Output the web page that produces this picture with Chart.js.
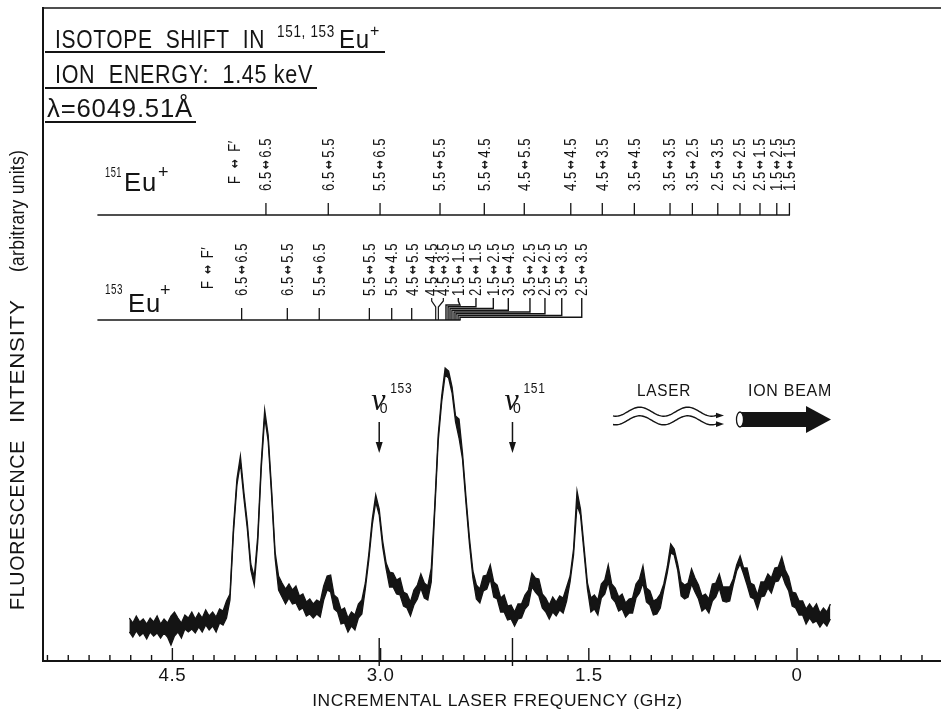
<!DOCTYPE html>
<html><head><meta charset="utf-8">
<script src="https://cdn.jsdelivr.net/npm/chart.js@4.4.1/dist/chart.umd.min.js"></script>
<style>html,body{margin:0;padding:0;background:#fff;overflow:hidden}canvas{display:block}</style>
</head><body>
<div style="width:941px;height:713px;position:relative"><canvas id="c" width="941" height="713"></canvas></div>
<script>
// ---------------- data ----------------
const freqStart = 4.81;      // GHz of first scan sample
const freqStep = 0.025;      // GHz between samples (scan runs toward lower frequency)
// upper and lower edges of the noisy fluorescence trace (arbitrary units)
const traceUpper = [
 4.3,3.8,4.5,3.9,4.2,3.7,4.3,3.9,4.5,3.7, 4.2,3.8,4.5,4.9,4.3,3.8,4.6,4.3,4.9,4.2,
 4.8,4.3,5.1,4.5,4.9,4.4,5.2,5.0,6.0,6.7, 13.4,18.2,20.5,16.9,13.8,9.7,8.4,12.5,19.8,25.1,
 22.6,17.1,10.9,8.5,7.8,7.2,7.7,7.1,7.5,6.5, 6.7,5.9,6.2,5.7,6.1,5.9,7.5,8.5,8.6,6.6,
 6.3,5.1,5.3,4.3,4.9,4.6,5.7,6.1,7.8,10.7, 14.2,16.6,15.2,12.0,9.8,8.9,8.8,8.1,8.3,6.9,
 6.7,5.9,7.1,7.6,8.7,7.8,7.5,9.3,15.5,22.6, 26.5,29.3,29.0,27.4,24.5,24.2,20.8,16.4,12.3,9.0,
 7.6,7.2,8.5,8.6,9.6,7.9,7.6,6.3,6.6,5.5, 5.6,4.9,5.7,5.7,6.6,7.1,8.8,8.3,8.2,6.7,
 6.3,5.6,6.4,5.9,6.5,6.3,7.4,8.5,11.2,17.0, 15.2,11.5,7.8,6.3,6.6,6.1,7.7,8.1,9.6,7.7,
 7.3,6.4,6.7,5.8,6.2,6.3,7.7,8.2,9.5,7.3, 7.0,6.0,6.2,6.7,7.7,9.4,11.7,11.2,9.7,7.9,
 7.6,7.8,9.2,8.3,7.6,6.5,6.7,6.2,7.7,7.8, 8.7,7.4,7.4,7.4,8.2,9.6,10.5,9.3,9.3,7.8,
 7.6,6.6,7.9,7.9,8.7,8.3,9.3,9.4,10.4,9.1, 8.4,6.9,6.8,6.0,6.0,5.2,5.7,5.2,5.7,4.8,
 5.3,4.9,5.7
];
const traceLower = [
 2.9,2.4,3.0,2.5,2.8,2.2,2.9,2.5,2.8,2.3, 2.8,2.4,1.6,2.5,2.9,2.3,3.2,2.9,3.2,2.8,
 3.4,2.9,3.6,3.1,3.5,2.9,3.8,3.6,4.3,6.1, 12.8,17.6,19.8,16.3,13.2,9.1,7.6,11.9,19.2,24.4,
 22.0,16.5,10.3,7.1,6.4,5.7,6.3,5.7,5.8,5.1, 5.3,4.5,4.7,4.3,4.7,4.4,6.1,7.1,6.9,5.2,
 4.9,3.7,3.8,2.9,3.5,3.1,4.3,4.7,7.2,10.1, 13.6,15.9,14.6,11.4,9.2,7.4,7.4,6.7,6.6,5.5,
 5.3,4.5,5.6,6.2,7.3,6.3,6.1,7.9,14.9,22.0, 25.9,28.6,28.3,26.8,23.9,22.3,20.2,15.8,11.7,8.3,
 6.2,5.8,7.0,7.2,8.2,6.4,6.2,4.9,4.9,4.1, 4.2,3.5,4.2,4.3,5.2,5.6,7.4,6.9,6.5,5.3,
 4.9,4.2,4.9,4.5,5.1,4.8,6.0,7.9,10.6,15.6, 14.6,10.9,7.2,4.9,5.2,4.6,6.3,6.7,7.9,6.3,
 5.9,5.0,5.2,4.4,4.8,4.8,6.3,6.8,7.8,5.9, 5.6,4.6,4.7,5.3,7.1,8.8,10.8,10.6,9.1,6.5,
 6.2,6.4,7.7,6.9,6.2,5.0,5.3,4.8,6.0,6.4, 7.3,6.0,5.9,6.0,7.6,9.0,9.7,8.7,7.6,6.4,
 6.2,5.2,6.4,6.5,7.3,6.8,7.9,8.0,8.7,7.7, 7.0,5.5,5.3,4.6,4.6,3.7,4.3,3.8,4.0,3.4,
 3.9,3.5,4.2
];
const xRange = [-1.037, 5.432];          // GHz shown (axis reversed)
const yRange = [0, 65.3];                // arbitrary units
const xMajorTicks = [4.5, 3.0, 1.5, 0];
const xMinorStep = 0.15;
const nu0Isotopes = ['153', '151'];
const nu0Freqs = [3.01, 2.05];

const eu151Labels = ['6.5↔6.5','6.5↔5.5','5.5↔6.5','5.5↔5.5','5.5↔4.5','4.5↔5.5','4.5↔4.5','4.5↔3.5',
                     '3.5↔4.5','3.5↔3.5','3.5↔2.5','2.5↔3.5','2.5↔2.5','2.5↔1.5','1.5↔2.5','1.5↔1.5'];
const eu151Freqs  = [3.826,3.377,3.004,2.572,2.253,1.965,1.630,1.403,1.172,0.915,0.754,0.571,0.411,0.267,0.146,0.055];
const eu153Labels = ['6.5↔6.5','6.5↔5.5','5.5↔6.5','5.5↔5.5','5.5↔4.5','4.5↔5.5','4.5↔4.5','4.5↔3.5',
                     '1.5↔1.5','2.5↔1.5','1.5↔2.5','3.5↔4.5','3.5↔2.5','2.5↔2.5','3.5↔3.5','2.5↔3.5'];
const eu153Freqs  = [4.001,3.672,3.442,3.081,2.920,2.776,2.603,2.584,2.529,2.514,2.500,2.486,2.471,2.457,2.442,2.428];

// ---------------- layout (not data) ----------------
const eu153LabelAt = [4.001,3.672,3.442,3.081,2.920,2.770,2.632,2.548,2.440,2.313,2.188,2.080,1.924,1.816,1.695,1.551];
const diagramStart = 5.04;
const headerAt151 = 4.05, headerAt153 = 4.245;

const INK = '#141414';
function hasFont(name) {
  const c = document.createElement('canvas').getContext('2d');
  const s = 'ISOTOPE SHIFT 6049.51 keV';
  c.font = '40px monospace'; const a = c.measureText(s).width;
  c.font = '40px "' + name + '", monospace'; const b = c.measureText(s).width;
  return Math.abs(a - b) > 0.5;
}
const NARROW = hasFont('Liberation Sans Narrow');
const FAMILY = NARROW ? '"Liberation Sans Narrow", "Liberation Sans", "DejaVu Sans", sans-serif'
                      : '"Liberation Sans", "DejaVu Sans", Arial, sans-serif';
const REG = '"Liberation Sans", "DejaVu Sans", Arial, sans-serif';
const SX = NARROW ? 1 : 0.82;
const K = NARROW ? 1 : 0.85;

// text in the regular face, squeezed horizontally to a measured width
function drawText(ctx, s, x, y, o) {
  o = o || {};
  const size = o.size || 16;
  ctx.save();
  ctx.translate(x, y);
  if (o.rotate) ctx.rotate(o.rotate);
  ctx.font = (o.italic ? 'italic ' : '') + (o.weight || '400') + ' ' + size + 'px ' + (o.family || REG);
  ctx.textAlign = o.align || 'left';
  ctx.textBaseline = o.baseline || 'alphabetic';
  ctx.fillStyle = o.color || INK;
  ctx.letterSpacing = (o.spacing == null ? 0.8 : o.spacing) + 'px';
  let sx = 1;
  if (o.width) sx = o.width / ctx.measureText(s).width;
  ctx.scale(sx, 1);
  ctx.fillText(s, 0, 0);
  ctx.restore();
}
// rotated transition label "a↔b", reading bottom to top, starting at yBottom
function drawTransition(ctx, s, x, yBottom, gap) {
  gap = gap == null ? 2.6 : gap;
  const [a, b] = s.split('↔');
  ctx.save();
  ctx.translate(x, yBottom);
  ctx.rotate(-Math.PI / 2);
  ctx.fillStyle = INK;
  ctx.textBaseline = 'middle';
  ctx.textAlign = 'left';
  ctx.scale(SX, 1);
  ctx.letterSpacing = '0.7px';
  ctx.font = '400 16px ' + FAMILY;
  const wa = ctx.measureText(a).width;
  ctx.fillText(a, 0, 0.5);
  ctx.letterSpacing = '0px';
  ctx.font = '700 13px "DejaVu Sans", sans-serif';
  const wr = ctx.measureText('↔').width;
  ctx.fillText('↔', wa + gap, 0.5);
  ctx.letterSpacing = '0.7px';
  ctx.font = '400 16px ' + FAMILY;
  ctx.fillText(b, wa + wr + 2 * gap, 0.5);
  ctx.restore();
}
function seg(ctx, x1, y1, x2, y2, w) {
  ctx.beginPath(); ctx.lineWidth = w || 1.3; ctx.moveTo(x1, y1); ctx.lineTo(x2, y2); ctx.stroke();
}
function poly(ctx, pts, w) {
  ctx.beginPath(); ctx.lineWidth = w || 1.2;
  pts.forEach((p, i) => i ? ctx.lineTo(p[0], p[1]) : ctx.moveTo(p[0], p[1]));
  ctx.stroke();
}

const bgPlugin = {
  id: 'bg',
  beforeDraw(chart) {
    const c = chart.ctx;
    c.save(); c.fillStyle = '#fff'; c.fillRect(0, 0, chart.width, chart.height); c.restore();
    c.letterSpacing = NARROW ? '1px' : '0.6px';
  }
};

const annotPlugin = {
  id: 'annot',
  afterDraw(chart) {
    const ctx = chart.ctx, xs = chart.scales.x, A = chart.chartArea;
    const X = f => xs.getPixelForValue(f);
    ctx.save();
    ctx.strokeStyle = INK; ctx.fillStyle = INK; ctx.lineCap = 'butt';

    // frame top line
    seg(ctx, A.left - 1, A.top, A.right, A.top, 1.6);

    // inward ticks on frequency axis
    const k0 = Math.ceil(xRange[0] / xMinorStep - 1e-9), k1 = Math.floor(xRange[1] / xMinorStep + 1e-9);
    for (let k = k0; k <= k1; k++) {
      const f = k * xMinorStep;
      const major = xMajorTicks.some(m => Math.abs(m - f) < 1e-6);
      const x = X(f);
      seg(ctx, x, A.bottom, x, A.bottom - (major ? 13 : 6), 1.4);
    }
    // nu0 marker lines across the axis
    nu0Freqs.forEach(f => { const x = X(f); seg(ctx, x, A.bottom - 23, x, A.bottom + 5, 1.4); });

    // ---- y axis title ----
    const rot = -Math.PI / 2;
    drawText(ctx, 'FLUORESCENCE', 18, 610, {size: 21, width: 170, rotate: rot, baseline: 'middle'});
    drawText(ctx, 'INTENSITY', 18, 423, {size: 21, width: 124, rotate: rot, baseline: 'middle'});
    drawText(ctx, '(arbitrary units)', 18, 272, {size: 21, width: 122, rotate: rot, baseline: 'middle', spacing: 0.3});

    // ---- title block ----
    drawText(ctx, 'ISOTOPE  SHIFT  IN', 55, 48, {size: 25, width: 210});
    drawText(ctx, '151, 153', 277, 37, {size: 16, width: 58});
    drawText(ctx, 'Eu', 339, 48, {size: 25, width: 31});
    drawText(ctx, '+', 370, 36, {size: 16});
    seg(ctx, 45, 52, 385, 52, 2);
    drawText(ctx, 'ION  ENERGY:  1.45 keV', 55, 83, {size: 25, width: 258});
    seg(ctx, 45, 88, 317, 88, 2);
    drawText(ctx, 'λ=6049.51Å', 47, 117, {size: 25, width: 146});
    seg(ctx, 45, 122, 196, 122, 2);

    // ---- 151Eu+ level diagram ----
    const y151 = 215;
    drawText(ctx, '151', 105, 177, {size: 15, width: 17});
    drawText(ctx, 'Eu', 124, 191, {size: 25, width: 33});
    drawText(ctx, '+', 158, 178, {size: 18});
    seg(ctx, X(diagramStart), y151, X(eu151Freqs[eu151Freqs.length - 1]) + 0.6, y151, 1.4);
    eu151Freqs.forEach((f, i) => {
      const x = X(f);
      seg(ctx, x, y151, x, y151 - 12, 1.3);
      drawTransition(ctx, eu151Labels[i], x + 0.5, 191);
    });
    drawTransition(ctx, 'F↔F′', X(headerAt151), 184, 9);

    // ---- 153Eu+ level diagram ----
    const y153 = 320;
    const bx = X(eu153Freqs[eu153Freqs.length - 1]);
    drawText(ctx, '153', 105, 294, {size: 15, width: 18});
    drawText(ctx, 'Eu', 128, 312, {size: 25, width: 33});
    drawText(ctx, '+', 160, 296, {size: 18});
    seg(ctx, X(diagramStart), y153, bx + 0.6, y153, 1.4);
    drawTransition(ctx, 'F↔F′', X(headerAt153), 289, 8);
    eu153Freqs.forEach((f, i) => {
      const xt = X(f), xl = X(eu153LabelAt[i]);
      drawTransition(ctx, eu153Labels[i], xl + 0.5, 296);
      if (i < 6) {
        seg(ctx, xt, y153, xt, y153 - 12, 1.3);
      } else if (i < 8) {
        poly(ctx, [[xl, 298], [xl, 301], [xt, 307], [xt, y153]], 1.2);
      } else {
        const j = i - 8, yj = 305 + j * 1.75;
        poly(ctx, [[xl, 298], [xl, 301], [Math.max(xl, bx), yj], [xt, yj], [xt, y153]], 1.4);
      }
    });

    // ---- nu0 markers ----
    nu0Freqs.forEach((f, i) => {
      const x = X(f);
      drawText(ctx, 'ν', x - 8, 410, {size: 32, italic: true, spacing: 0, family: '"Liberation Serif", "DejaVu Serif", serif'});
      drawText(ctx, '0', x + 0.5, 413, {size: 14, spacing: 0});
      drawText(ctx, nu0Isotopes[i], x + 11, 393, {size: 15, width: 22});
      seg(ctx, x, 422, x, 444, 1.5);
      ctx.beginPath(); ctx.moveTo(x - 3.5, 442); ctx.lineTo(x + 3.5, 442); ctx.lineTo(x, 453); ctx.closePath(); ctx.fill();
    });

    // ---- LASER waves ----
    drawText(ctx, 'LASER', 637, 396, {size: 17, width: 54});
    [411.7, 420.3].forEach(c => {
      ctx.beginPath(); ctx.lineWidth = 1.4;
      let yEnd = c;
      for (let x = 613; x <= 716; x += 1) {
        const y = c - 4.5 * Math.cos(2 * Math.PI * (x - 639.7) / 48);
        if (x === 613) ctx.moveTo(x, y); else ctx.lineTo(x, y);
        yEnd = y;
      }
      ctx.lineTo(718, yEnd);
      ctx.stroke();
      ctx.beginPath(); ctx.moveTo(716, yEnd - 2.8); ctx.lineTo(724, yEnd); ctx.lineTo(716, yEnd + 2.8); ctx.closePath(); ctx.fill();
    });

    // ---- ION BEAM arrow ----
    drawText(ctx, 'ION BEAM', 748, 396, {size: 17, width: 84});
    ctx.fillRect(740, 412, 68, 15);
    ctx.beginPath(); ctx.moveTo(806, 406); ctx.lineTo(831, 419.5); ctx.lineTo(806, 433); ctx.closePath(); ctx.fill();
    ctx.beginPath(); ctx.ellipse(740, 419.5, 3.5, 7.5, 0, 0, Math.PI * 2);
    ctx.fillStyle = '#fff'; ctx.fill(); ctx.lineWidth = 1.3; ctx.stroke();

    ctx.restore();
  }
};

const toPoints = arr => arr.map((v, i) => ({x: +(freqStart - i * freqStep).toFixed(4), y: v}));

new Chart(document.getElementById('c').getContext('2d'), {
  type: 'line',
  data: {datasets: [
    {label: 'Fluorescence (upper edge)', data: toPoints(traceUpper),
     borderColor: INK, borderWidth: 1.3, pointRadius: 0, tension: 0, fill: false},
    {label: 'Fluorescence (lower edge)', data: toPoints(traceLower),
     borderColor: INK, borderWidth: 1.3, pointRadius: 0, tension: 0, fill: '-1', backgroundColor: INK}
  ]},
  options: {
    responsive: false, animation: false, devicePixelRatio: 1,
    layout: {padding: {left: 0, top: 8, right: 0, bottom: 0}},
    plugins: {legend: {display: false}, tooltip: {enabled: false}, title: {display: false}},
    scales: {
      x: {
        type: 'linear', reverse: true, min: xRange[0], max: xRange[1],
        grid: {display: false, drawTicks: false},
        border: {display: true, color: INK, width: 2},
        afterBuildTicks: s => { s.ticks = xMajorTicks.map(v => ({value: v})); },
        afterFit: s => { s.height = 52; },
        ticks: {autoSkip: false, maxRotation: 0, padding: 4, color: INK,
                font: {family: FAMILY, size: 22 * K},
                callback: v => (v === 0 ? '0' : Number(v).toFixed(1))},
        title: {display: true, text: '  INCREMENTAL LASER FREQUENCY (GHz)', color: INK,
                font: {family: FAMILY, size: 20.5 * K}, padding: {top: 0, bottom: 1}}
      },
      y: {
        min: yRange[0], max: yRange[1],
        grid: {display: false, drawTicks: false},
        border: {display: true, color: INK, width: 2},
        ticks: {display: false},
        afterFit: s => { s.width = 43; },
        title: {display: false}
      }
    }
  },
  plugins: [bgPlugin, annotPlugin]
});
</script>
</body></html>
